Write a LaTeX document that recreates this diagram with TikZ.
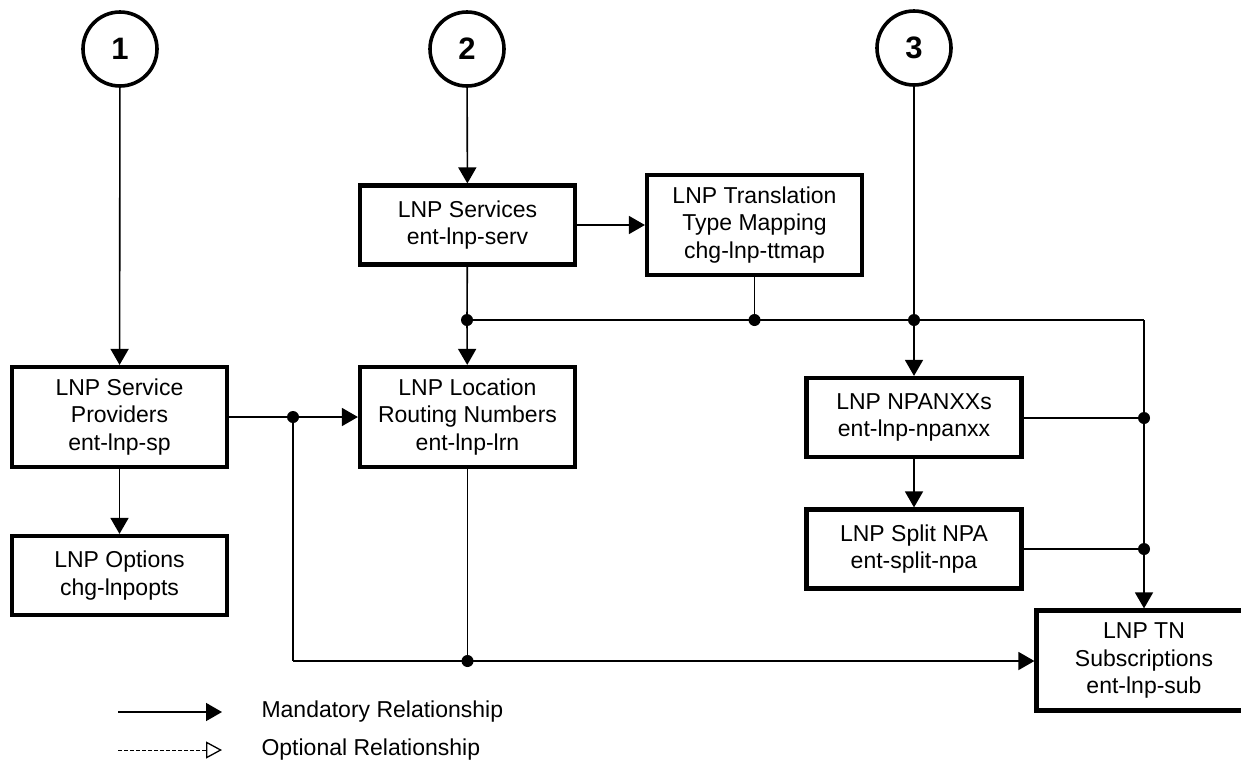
\documentclass[tikz,border=0pt]{standalone}
\usepackage{fontspec}
\setmainfont{Liberation Sans}
\usetikzlibrary{arrows.meta}
\begin{document}
\begin{tikzpicture}[x=1pt,y=-1pt,
  every node/.style={font=\fontsize{23}{27.5}\selectfont},
  entity/.style={draw,line width=4.2pt,align=center,inner sep=0pt,
    minimum width=215pt,minimum height=100pt},
  shortentity/.style={entity,minimum height=79pt},
  marker/.style={draw,circle,line width=3.6pt,minimum size=74pt,inner sep=0pt,
    font=\fontsize{31}{31}\selectfont\bfseries},
  link/.style={line width=1.6pt},
  mand/.style={link,-{Triangle[length=16pt,width=18pt]}},
  opt/.style={line width=1pt,dash pattern=on 4pt off 2pt,
    -{Triangle[open,length=16pt,width=17pt,line width=1.3pt]}},
  junction/.style={circle,fill,inner sep=0pt,minimum size=12pt}]
\useasboundingbox (0,0) rectangle (1241,761);

% numbered entry markers
\node[marker] (c1) at (120,49) {1};
\node[marker] (c2) at (467,49) {2};
\node[marker] (c3) at (914,48) {3};

% entities
\node[entity]      (sp)   at (119.5,417)   {LNP Service\\Providers\\ent-lnp-sp};
\node[shortentity] (opts) at (119.5,575.5) {LNP Options\\chg-lnpopts};
\node[shortentity] (serv) at (467.5,225)   {LNP Services\\ent-lnp-serv};
\node[entity]      (tt)   at (754.5,225)   {LNP Translation\\Type Mapping\\chg-lnp-ttmap};
\node[entity]      (lrn)  at (467.5,417)   {LNP Location\\Routing Numbers\\ent-lnp-lrn};
\node[shortentity] (npa)  at (914,417.5)   {LNP NPANXXs\\ent-lnp-npanxx};
\node[shortentity] (split) at (914,549)    {LNP Split NPA\\ent-split-npa};
\node[entity]      (tn)   at (1144,660.5)  {LNP TN\\Subscriptions\\ent-lnp-sub};

% junction points
\node[junction] (j1) at (467,320) {};
\node[junction] (j2) at (754.5,320) {};
\node[junction] (j3) at (914,320) {};
\node[junction] (j4) at (1144,418) {};
\node[junction] (j5) at (1144,549) {};
\node[junction] (j6) at (293,417) {};
\node[junction] (j7) at (467.5,661) {};
\coordinate (busend) at (1144,320);
\coordinate (lowcorner) at (293,661);

% relationships
\draw[mand] (c1) -- (sp);
\draw[mand] (sp) -- (opts);
\draw[mand] (c2) -- (serv);
\draw[mand] (serv) -- (tt);
\draw[link] (serv) -- (j1.center);
\draw[mand] (j1.center) -- (lrn);
\draw[link] (tt) -- (j2.center);
\draw[link] (c3) -- (j3.center);
\draw[mand] (j3.center) -- (npa);
\draw[mand] (npa) -- (split);
\draw[link] (j1.center) -- (busend);
\draw[mand] (busend) -- (tn.north);
\draw[link] (npa.east |- j4) -- (j4.center);
\draw[link] (split.east |- j5) -- (j5.center);
\draw[mand] (sp.east |- j6) -- (lrn.west |- j6);
\draw[link] (j6.center) -- (lowcorner);
\draw[mand] (lowcorner) -- (tn.west |- lowcorner);
\draw[link] (lrn.south -| j7) -- (j7.center);

% legend
\coordinate (m1) at (118,712);
\coordinate (m2) at (222,712);
\coordinate (o1) at (118,750);
\coordinate (o2) at (222,750);
\draw[mand] (m1) -- (m2);
\draw[opt] (o1) -- (o2);
\node[anchor=west] (mtext) at (258,712) {Mandatory Relationship};
\node[anchor=west] (otext) at (258,750) {Optional Relationship};
\end{tikzpicture}
\end{document}
